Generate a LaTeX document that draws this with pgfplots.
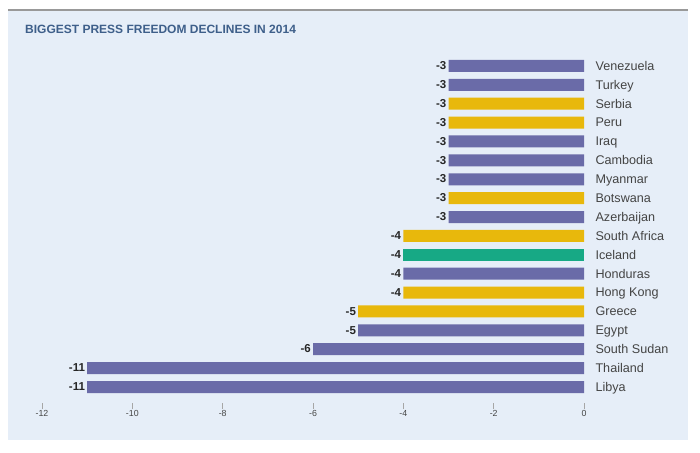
\documentclass[border=0pt]{standalone}
\usepackage{pgfplots}
\pgfplotsset{compat=1.18}
\usepackage{fontspec}
\setmainfont{Liberation Sans}
\definecolor{cpurple}{HTML}{6A6BA8}
\definecolor{cyellow}{HTML}{E8B80C}
\definecolor{cgreen}{HTML}{17A985}
\definecolor{cbg}{HTML}{E6EEF8}
\definecolor{ctitle}{HTML}{3E5F8A}
\definecolor{ctext}{HTML}{444444}
\begin{document}
\begin{tikzpicture}[x=1pt,y=1pt]
\fill[white] (0,0) rectangle (700,452);
\fill[cbg] (8,12) rectangle (688,442);
\draw[line width=1.5pt, color=gray!80] (8,442) -- (688,442);
\node[anchor=west, font=\bfseries\fontsize{12}{13}\selectfont, text=ctitle, inner sep=0pt] at (25,423) {BIGGEST PRESS FREEDOM DECLINES IN 2014};
\begin{axis}[
  at={(42pt,43pt)}, anchor=south west,
  scale only axis, width=542pt, height=352.5pt,
  xmin=-12, xmax=0, ymin=-1.164, ymax=17.5,
  xbar, bar width=12pt, bar shift=0pt,
  axis x line*=bottom, axis y line*=right,
  x axis line style={draw=none}, y axis line style={draw=none},
  xtick={-12,-10,...,0},
  xtick align=inside,
  x tick style={gray!70, line width=0.5pt},
  major tick length=6pt,
  y tick style={draw=none},
  ytick={0,...,17},
  yticklabels={Libya,Thailand,South Sudan,Egypt,Greece,Hong Kong,Honduras,Iceland,South Africa,Azerbaijan,Botswana,Myanmar,Cambodia,Iraq,Peru,Serbia,Turkey,Venezuela},
  yticklabel pos=right,
  yticklabel style={anchor=west, xshift=2pt, yshift=-1.2pt, font=\fontsize{12.6}{14}\selectfont, text=ctext, text height=9pt, text depth=2.6pt},
  xticklabel style={font=\fontsize{8.8}{10}\selectfont, text=ctext, inner sep=1pt},
  /pgf/number format/assume math mode=true,
  xticklabel shift=0pt,
  nodes near coords,
  nodes near coords style={anchor=east, font=\bfseries\fontsize{11.5}{13}\selectfont, text=black!85, inner sep=2pt, text height=8.5pt, text depth=0pt, yshift=0.6pt},
  every axis plot/.append style={draw=none},
  clip=false,
]
\addplot[fill=cpurple] coordinates {(-11,0) (-11,1) (-6,2) (-5,3) (-4,6) (-3,9) (-3,11) (-3,12) (-3,13) (-3,16) (-3,17)};
\addplot[fill=cyellow] coordinates {(-5,4) (-4,5) (-4,8) (-3,10) (-3,14) (-3,15)};
\addplot[fill=cgreen] coordinates {(-4,7)};
\end{axis}
\end{tikzpicture}
\end{document}
